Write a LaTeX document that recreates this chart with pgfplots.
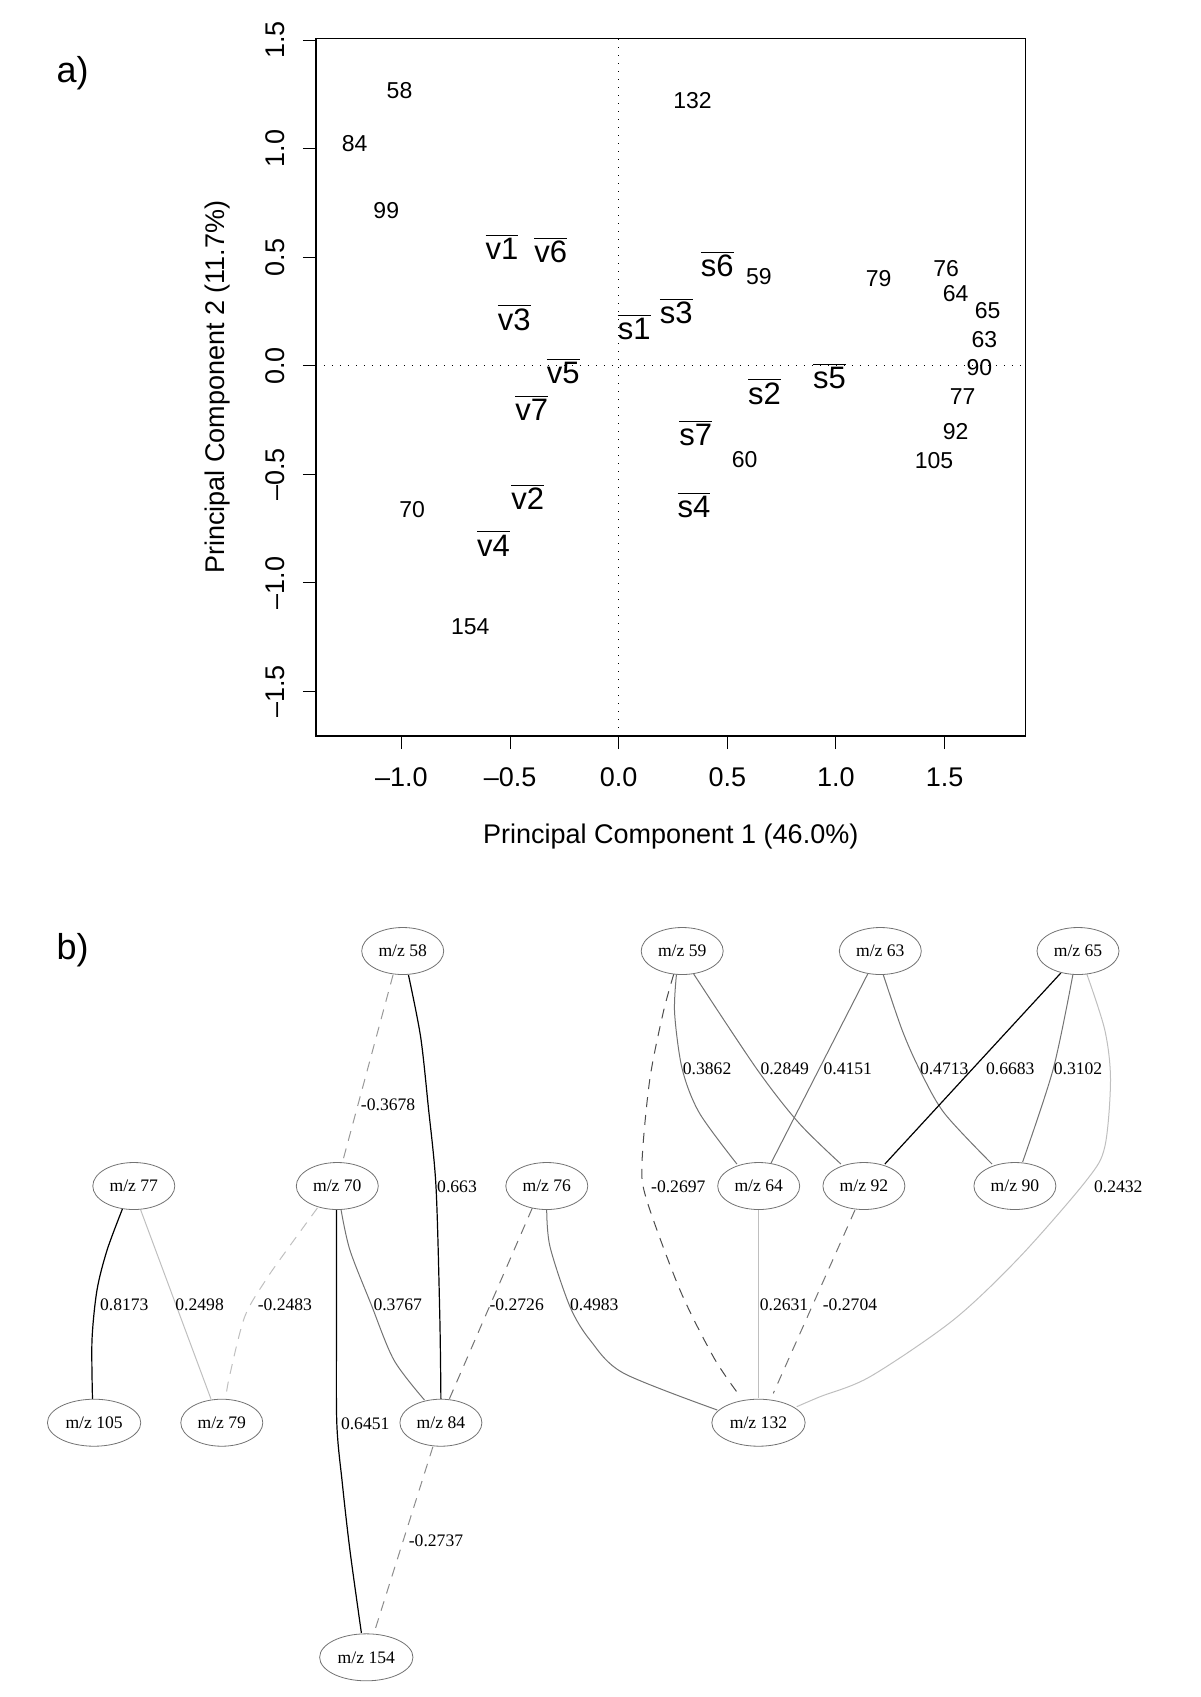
\documentclass[border=0pt]{standalone}
\usepackage{fontspec}
\setmainfont{Liberation Sans}
\newfontfamily\timesfont{Liberation Serif}
\usepackage{pgfplots}
\pgfplotsset{compat=1.18}
\usetikzlibrary{shapes.geometric}

% 1 px of the reference = 0.5pt
\newcommand{\tickfont}{\fontsize{13.5}{16}\selectfont}
\newcommand{\numfont}{\fontsize{11.5}{14}\selectfont}
\newcommand{\barfont}{\fontsize{15.5}{18}\selectfont}
\newcommand{\netfont}{\timesfont\fontsize{8.8}{10}\selectfont}

\tikzset{
  strong/.style={black, line width=0.6pt},
  mid/.style={black!55, line width=0.5pt},
  light/.style={black!25, line width=0.5pt},
  dsh/.style={dash pattern=on 5pt off 4pt},
}

\begin{document}
\begin{tikzpicture}
\path[use as bounding box] (0,0) rectangle (600pt,-848.5pt);

\node[font=\fontsize{18}{20}\selectfont] at (36.35pt,-36.5pt) {a)};
\node[font=\fontsize{18}{20}\selectfont] at (36.35pt,-475pt) {b)};

% ---------------- a) PCA plot
\begin{axis}[
  at={(157.95pt,-19.35pt)}, anchor=north west,
  scale only axis, width=354.85pt, height=348.65pt,
  xmin=-1.394, xmax=1.873, ymin=-1.706, ymax=1.507,
  clip=false,
  axis line style={line width=0.6pt},
  xtick={-1,-0.5,0,0.5,1,1.5},
  xticklabels={–1.0,–0.5,0.0,0.5,1.0,1.5},
  ytick={-1.5,-1,-0.5,0,0.5,1,1.5},
  yticklabels={–1.5,–1.0,–0.5,0.0,0.5,1.0,1.5},
  xtick pos=left, ytick pos=left,
  tick align=outside, major tick length=6.5pt,
  tick style={line width=0.5pt, black},
  ticklabel style={font=\tickfont},
  xticklabel style={anchor=north},
  yticklabel style={rotate=90, anchor=south},
  xticklabel shift=6pt, yticklabel shift=5.5pt,
  xlabel={Principal Component 1 (46.0\%)},
  ylabel={Principal Component 2 (11.7\%)},
  label style={font=\tickfont},
  xlabel style={at={(axis description cs:0.5,-0.1448)}, anchor=center},
  ylabel style={at={(axis description cs:-0.138,0.5)}, anchor=center},
  no markers,
]
\addplot[black, line width=0.5pt, dash pattern=on 0.5pt off 3.5pt] coordinates {(-1.394,0) (1.873,0)};
\addplot[black, line width=0.5pt, dash pattern=on 0.5pt off 3.5pt] coordinates {(0,-1.706) (0,1.507)};

% m/z labels
\addplot[only marks, mark=none, nodes near coords, point meta=explicit symbolic,
  every node near coord/.append style={anchor=center, font=\numfont, inner sep=0pt}]
coordinates {
(-1.009,1.267) [58]
(-1.216,1.022) [84]
(-1.070,0.717) [99]
(0.340,1.224) [132]
(0.645,0.413) [59]
(1.196,0.400) [79]
(1.507,0.449) [76]
(1.551,0.334) [64]
(1.698,0.253) [65]
(1.683,0.122) [63]
(1.660,-0.007) [90]
(1.583,-0.143) [77]
(1.551,-0.304) [92]
(1.451,-0.439) [105]
(0.580,-0.431) [60]
(-0.951,-0.662) [70]
(-0.683,-1.203) [154]
};

% sample means (overlined)
\addplot[only marks, mark=none, nodes near coords={$\overline{\mbox{\pgfplotspointmeta}}$},
  point meta=explicit symbolic,
  every node near coord/.append style={anchor=base, yshift=-5.5pt, font=\barfont, inner sep=0pt}]
coordinates {
(-0.537,0.541) [v1]
(-0.313,0.525) [v6]
(-0.481,0.214) [v3]
(-0.255,-0.032) [v5]
(-0.400,-0.201) [v7]
(-0.419,-0.611) [v2]
(-0.577,-0.826) [v4]
(0.072,0.172) [s1]
(0.265,0.245) [s3]
(0.454,0.460) [s6]
(0.671,-0.127) [s2]
(0.970,-0.055) [s5]
(0.354,-0.319) [s7]
(0.347,-0.647) [s4]
};
\end{axis}

% ---------------- b) correlation network (pixel coordinates)
\begin{axis}[
  at={(0pt,-440pt)}, anchor=north west,
  scale only axis, width=600pt, height=408.5pt,
  xmin=0, xmax=1200, ymin=880, ymax=1697, y dir=reverse,
  hide axis, clip=false, no markers,
]
% edges
\addplot[black!40, line width=0.5pt, dsh] coordinates {(393.1,974.7) (342.3,1162.7)};
\addplot[strong, smooth] coordinates {(408.4,974.7) (420.6,1036.7) (428.3,1106.7) (436,1186.7) (439.8,1316.7) (440.9,1399)};
\addplot[strong, smooth] coordinates {(122.4,1209) (107.1,1250) (97,1290) (92,1340) (92.5,1399)};
\addplot[light] coordinates {(140.7,1210) (211,1399)};
\addplot[light, dsh, smooth] coordinates {(317.4,1208) (286.8,1250) (265.8,1280) (244.7,1316.7) (229.4,1376.7) (225.6,1399)};
\addplot[mid, smooth] coordinates {(341.1,1210) (349.9,1250) (371,1304) (393.9,1360) (424.5,1400)};
\addplot[strong, smooth] coordinates {(336.5,1210) (336.5,1320) (336.8,1423) (342.3,1483) (349.9,1550) (361.4,1633)};
\addplot[mid, dsh] coordinates {(532.3,1208) (449.3,1399)};
\addplot[black!45, line width=0.5pt, dsh] coordinates {(432.9,1446.7) (374,1633)};
\addplot[mid, smooth] coordinates {(546.7,1210) (550,1246.7) (570,1306.7) (590,1340) (623.3,1373) (717.3,1410)};
\addplot[mid, smooth] coordinates {(676.5,974) (674.6,1013) (682.2,1069) (699.4,1113) (736.9,1164)};
\addplot[mid, smooth] coordinates {(693.7,974) (756.8,1069) (798.9,1123) (840.9,1164)};
\addplot[mid] coordinates {(867.7,974) (770.9,1163.3)};
\addplot[mid, smooth] coordinates {(883,974) (902.1,1030) (919.3,1069) (944.2,1113) (992,1164)};
\addplot[strong] coordinates {(1060.8,973) (884.9,1164)};
\addplot[mid, smooth] coordinates {(1073,974) (1053.2,1069) (1022.6,1162)};
\addplot[light, smooth] coordinates {(1086.8,974) (1104.8,1030) (1110.5,1080) (1104.8,1146.7) (1086.7,1180) (1020,1256.7) (953.3,1320) (870,1376.7) (820,1396.7) (796.7,1406.7)};
\addplot[black!70, line width=0.5pt, dsh, smooth] coordinates {(673.8,974) (663.1,1013) (649.7,1080) (642,1163) (646.7,1200) (680,1290) (713.3,1356.7) (736.7,1391.7)};
\addplot[light] coordinates {(758.5,1210) (758.5,1398)};
\addplot[mid, dsh] coordinates {(855,1210) (773.3,1393.3)};

% nodes
\addplot[only marks, mark=none, nodes near coords={m/z \pgfplotspointmeta}, point meta=explicit symbolic,
  every node near coord/.append style={anchor=center, font=\netfont, ellipse, draw=black!55,
    line width=0.4pt, fill=white, minimum width=41pt, minimum height=23.5pt, inner xsep=2.2pt}]
coordinates {
(402.7,951) [58] (682.2,951) [59] (880.3,951) [63] (1078,951) [65]
(133.8,1186) [77] (337.3,1186) [70] (546.8,1186) [76]
(758.7,1186) [64] (863.9,1186) [92] (1014.9,1186) [90]
(94.1,1422.7) [105] (221.8,1422.7) [79] (440.9,1422.7) [84] (758.5,1422.7) [132]
(366.3,1657.3) [154]
};

% edge weights
\addplot[only marks, mark=none, nodes near coords, point meta=explicit symbolic,
  every node near coord/.append style={anchor=center, font=\netfont, inner sep=0pt}]
coordinates {
(388.1,1105) [-0.3678] (457,1186.7) [0.663]
(124.3,1304.3) [0.8173] (199.6,1304.3) [0.2498] (284.9,1304.3) [-0.2483]
(397.7,1304.3) [0.3767] (516.7,1305) [-0.2726] (594.3,1305) [0.4983]
(365.2,1423.3) [0.6451] (436,1540.7) [-0.2737]
(707.1,1069) [0.3862] (784.7,1069) [0.2849] (847.8,1069) [0.4151]
(944.2,1069) [0.4713] (1010.3,1069) [0.6683] (1078,1069) [0.3102]
(678.3,1187) [-0.2697] (1118.3,1187) [0.2432]
(784,1305) [0.2631] (850,1305) [-0.2704]
};
\end{axis}
\end{tikzpicture}
\end{document}
